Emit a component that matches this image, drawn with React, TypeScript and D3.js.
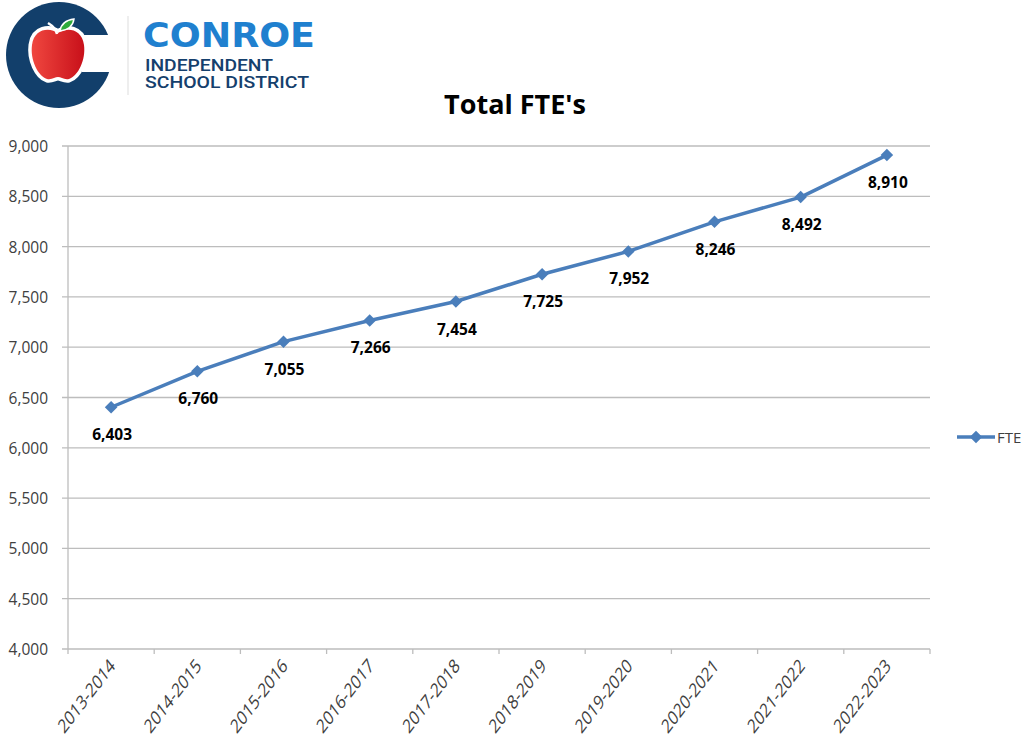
import { useEffect, useRef } from "react";
import * as d3 from "d3";

const categories = ["2013-2014", "2014-2015", "2015-2016", "2016-2017", "2017-2018", "2018-2019", "2019-2020", "2020-2021", "2021-2022", "2022-2023"];
const fteValues = [6403, 6760, 7055, 7266, 7454, 7725, 7952, 8246, 8492, 8910];
const yTicks = [4000, 4500, 5000, 5500, 6000, 6500, 7000, 7500, 8000, 8500, 9000];
const seriesName = "FTE";

const FONT = "'Open Sans', 'Noto Sans', sans-serif";

export default function App() {
  const svgRef = useRef<SVGSVGElement>(null);

  useEffect(() => {
    if (!svgRef.current) return;
    const svg = d3.select(svgRef.current);
    svg.selectAll("*").remove();

    const left = 68, right = 930, top = 146, bottom = 649;

    const x = d3.scaleBand<string>().domain(categories).range([left, right]);
    const y = d3.scaleLinear().domain([4000, 9000]).range([bottom, top]);

    // logo
    const logo = svg.append("g");
    logo.append("circle").attr("cx", 59).attr("cy", 55).attr("r", 53).attr("fill", "#123f6b");
    logo.append("rect").attr("x", 82).attr("y", 35).attr("width", 40).attr("height", 37).attr("fill", "#fff");
    const apple = "M58,33 C50,27 34,28 32,45 C30,60 38,76 47,79 C52,80 55,77 58,77 C61,77 64,80 69,79 C78,76 86,60 84,45 C82,28 66,27 58,33 Z";
    logo.append("path").attr("d", apple).attr("fill", "#fff").attr("stroke", "#fff").attr("stroke-width", 7).attr("stroke-linejoin", "round");
    const grad = svg.append("defs").append("linearGradient").attr("id", "appleG").attr("x1", "0").attr("x2", "1");
    grad.append("stop").attr("offset", "0").attr("stop-color", "#f0473f");
    grad.append("stop").attr("offset", "1").attr("stop-color", "#c8101a");
    logo.append("path").attr("d", apple).attr("fill", "url(#appleG)");
    logo.append("path").attr("d", "M57,34 C56,29 53,26 48,23").attr("stroke", "#fff").attr("stroke-width", 2.5).attr("fill", "none");
    logo.append("path").attr("d", "M60,31 C61,24 66,20 74,19 C73,26 68,30 60,31 Z").attr("fill", "#2eaa3a").attr("stroke", "#fff").attr("stroke-width", 1.5);

    logo.append("line").attr("x1", 128).attr("x2", 128).attr("y1", 16).attr("y2", 95).attr("stroke", "#ddd").attr("stroke-width", 1);
    logo.append("text").attr("x", 143).attr("y", 47).attr("fill", "#1f80cf").attr("font-family", "'DejaVu Sans', sans-serif").attr("font-weight", "bold").attr("font-size", 34)
      .attr("textLength", 172).attr("lengthAdjust", "spacingAndGlyphs").text("CONROE");
    logo.append("text").attr("x", 145).attr("y", 71).attr("fill", "#15406d").attr("font-family", "'Roboto', sans-serif").attr("font-size", 16).attr("font-weight", 500)
      .attr("textLength", 128).attr("lengthAdjust", "spacingAndGlyphs").text("INDEPENDENT");
    logo.append("text").attr("x", 145).attr("y", 88).attr("fill", "#15406d").attr("font-family", "'Roboto', sans-serif").attr("font-size", 16).attr("font-weight", 500)
      .attr("textLength", 164).attr("lengthAdjust", "spacingAndGlyphs").text("SCHOOL DISTRICT");

    // title
    svg.append("text").attr("x", 515).attr("y", 114).attr("text-anchor", "middle")
      .attr("font-family", FONT).attr("font-weight", "bold").attr("font-size", 27).attr("fill", "#000").text("Total FTE's");

    // gridlines + y labels
    svg.append("g").selectAll("line").data(yTicks).enter().append("line")
      .attr("x1", left - 6).attr("x2", right).attr("y1", d => y(d)).attr("y2", d => y(d))
      .attr("stroke", "#bdbdbd").attr("stroke-width", 1.3);
    svg.append("g").selectAll("text").data(yTicks).enter().append("text")
      .attr("x", 48).attr("y", d => y(d) + 6).attr("text-anchor", "end")
      .attr("font-family", FONT).attr("font-size", 15.5).attr("fill", "#404040")
      .text(d => d3.format(",")(d));

    // axes lines
    svg.append("line").attr("x1", left).attr("x2", left).attr("y1", top).attr("y2", bottom).attr("stroke", "#bdbdbd").attr("stroke-width", 1.3);
    const tickXs = categories.map(c => x(c)!).concat([right]);
    svg.append("g").selectAll("line").data(tickXs).enter().append("line")
      .attr("x1", d => d).attr("x2", d => d).attr("y1", bottom).attr("y2", bottom + 5)
      .attr("stroke", "#bdbdbd").attr("stroke-width", 1.3);

    // x labels (slightly stretched vertically like the source image)
    svg.append("g").selectAll("text").data(categories).enter().append("text")
      .attr("transform", d => `translate(${x(d)! + x.bandwidth() / 2 + 5},${bottom + 18}) scale(1,1.3) rotate(-45)`)
      .attr("text-anchor", "end")
      .attr("font-family", FONT).attr("font-size", 15).attr("fill", "#404040")
      .text(d => d);

    // line
    const pts = categories.map((c, i) => ({ c, v: fteValues[i] }));
    const line = d3.line<{ c: string; v: number }>().x(d => x(d.c)! + x.bandwidth() / 2).y(d => y(d.v));
    svg.append("path").attr("d", line(pts)).attr("fill", "none").attr("stroke", "#4a7ebb").attr("stroke-width", 3.5).attr("stroke-linejoin", "round");

    const diamond = d3.symbol().type(d3.symbolDiamond2).size(100);
    svg.append("g").selectAll("path").data(pts).enter().append("path")
      .attr("d", diamond)
      .attr("transform", d => `translate(${x(d.c)! + x.bandwidth() / 2},${y(d.v)})`)
      .attr("fill", "#4a7ebb");

    svg.append("g").selectAll("text").data(pts).enter().append("text")
      .attr("x", d => x(d.c)! + x.bandwidth() / 2 + 1).attr("y", d => y(d.v) + 33)
      .attr("text-anchor", "middle").attr("font-family", FONT).attr("font-weight", "bold").attr("font-size", 15.5).attr("fill", "#000")
      .text(d => d3.format(",")(d.v));

    // legend
    svg.append("line").attr("x1", 957).attr("x2", 995).attr("y1", 437).attr("y2", 437).attr("stroke", "#4a7ebb").attr("stroke-width", 3.5);
    svg.append("path").attr("d", diamond).attr("transform", "translate(976,437)").attr("fill", "#4a7ebb");
    svg.append("text").attr("x", 997).attr("y", 443).attr("font-family", FONT).attr("font-size", 15).attr("fill", "#404040").text(seriesName);
  }, []);

  return (
    <div style={{ position: "absolute", left: 0, top: 0 }}>
      <svg ref={svgRef} width={1025} height={747} style={{ display: "block", background: "#fff" }}></svg>
    </div>
  );
}
